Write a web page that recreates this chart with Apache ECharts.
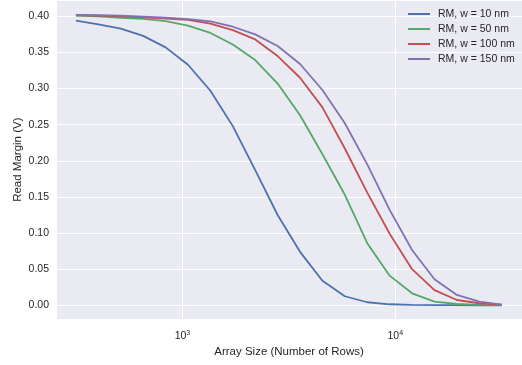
<!DOCTYPE html>
<html>
<head>
<meta charset="utf-8">
<script src="https://cdn.jsdelivr.net/npm/echarts@6/dist/echarts.min.js"></script>
<style>
html,body{margin:0;padding:0;background:#fff;}
#chart{width:522px;height:365px;}
</style>
</head>
<body>
<div id="chart"></div>
<script>
// Array size (number of rows), log-spaced
const rows = [316, 403, 513, 654, 834, 1062, 1354, 1725, 2198, 2801, 3570, 4549, 5796, 7386, 9412, 11994, 15285, 19477, 24820, 31623];
const seriesNames = ['RM, w = 10 nm', 'RM, w = 50 nm', 'RM, w = 100 nm', 'RM, w = 150 nm'];
const rmW10 = [0.394, 0.389, 0.383, 0.373, 0.357, 0.333, 0.297, 0.248, 0.187, 0.125, 0.074, 0.034, 0.0125, 0.0042, 0.0014, 0.0005, 0.0002, 0.0001, 0.0000, 0.0000];
const rmW50 = [0.401, 0.400, 0.398, 0.3965, 0.3935, 0.387, 0.377, 0.361, 0.3395, 0.307, 0.263, 0.209, 0.153, 0.086, 0.041, 0.0166, 0.005, 0.0018, 0.0006, 0.0002];
const rmW100 = [0.4015, 0.401, 0.400, 0.3986, 0.397, 0.395, 0.390, 0.381, 0.368, 0.345, 0.315, 0.274, 0.217, 0.156, 0.099, 0.050, 0.021, 0.0073, 0.0028, 0.0008];
const rmW150 = [0.402, 0.4015, 0.401, 0.3995, 0.398, 0.396, 0.393, 0.3856, 0.375, 0.359, 0.334, 0.298, 0.252, 0.195, 0.132, 0.0765, 0.036, 0.0143, 0.005, 0.001];

const colors = ['#4C72B0', '#55A868', '#C44E52', '#8172B2'];
const allSeries = [rmW10, rmW50, rmW100, rmW150];
const font = '"Liberation Sans", Arial, sans-serif';

const chart = echarts.init(document.getElementById('chart'), null, {renderer: 'canvas'});
chart.setOption({
  animation: false,
  backgroundColor: '#ffffff',
  grid: {left: 56, right: 0, top: 0, bottom: 45.7, show: true, backgroundColor: '#EAEAF2', borderWidth: 0},
  legend: {
    orient: 'vertical', left: 403, top: 3,
    icon: 'rect', itemWidth: 22, itemHeight: 2, itemGap: 3,
    textStyle: {fontFamily: font, fontSize: 10.5, color: '#262626', padding: [0, 0, 0, 3], lineHeight: 12},
    data: seriesNames
  },
  xAxis: {
    type: 'log', logBase: 10,
    min: 254.7, max: 39400,
    name: 'Array Size (Number of Rows)', nameLocation: 'middle', nameGap: 26.5, nameMoveOverlap: false,
    nameTextStyle: {fontFamily: font, fontSize: 11.5, color: '#262626'},
    axisLine: {show: false}, axisTick: {show: false}, minorTick: {show: false},
    splitLine: {show: true, lineStyle: {color: '#ffffff', width: 1}},
    axisLabel: {
      showMinLabel: false, showMaxLabel: false, margin: 10,
      formatter: function (v) { return '{b|10}{s|' + Math.round(Math.log10(v)) + '}'; },
      rich: {
        b: {fontFamily: font, fontSize: 10.5, color: '#262626'},
        s: {fontFamily: font, fontSize: 7, color: '#262626', verticalAlign: 'bottom', padding: [0, 0, 7, 0]}
      }
    }
  },
  yAxis: {
    type: 'value', min: -0.0194, max: 0.4226, splitNumber: 9,
    name: 'Read Margin (V)', nameLocation: 'middle', nameGap: 32, nameMoveOverlap: false,
    nameTextStyle: {fontFamily: font, fontSize: 11.5, color: '#262626'},
    axisLine: {show: false}, axisTick: {show: false},
    splitLine: {show: true, lineStyle: {color: '#ffffff', width: 1}},
    axisLabel: {
      showMinLabel: false, showMaxLabel: false, margin: 7,
      fontFamily: font, fontSize: 10.5, color: '#262626',
      formatter: function (v) { return v.toFixed(2); }
    }
  },
  series: allSeries.map(function (vals, k) {
    return {
      name: seriesNames[k], type: 'line', symbol: 'none', smooth: false,
      data: rows.map(function (r, i) { return [r, vals[i]]; }),
      lineStyle: {color: colors[k], width: 1.8},
      itemStyle: {color: colors[k]}
    };
  })
});
</script>
</body>
</html>
